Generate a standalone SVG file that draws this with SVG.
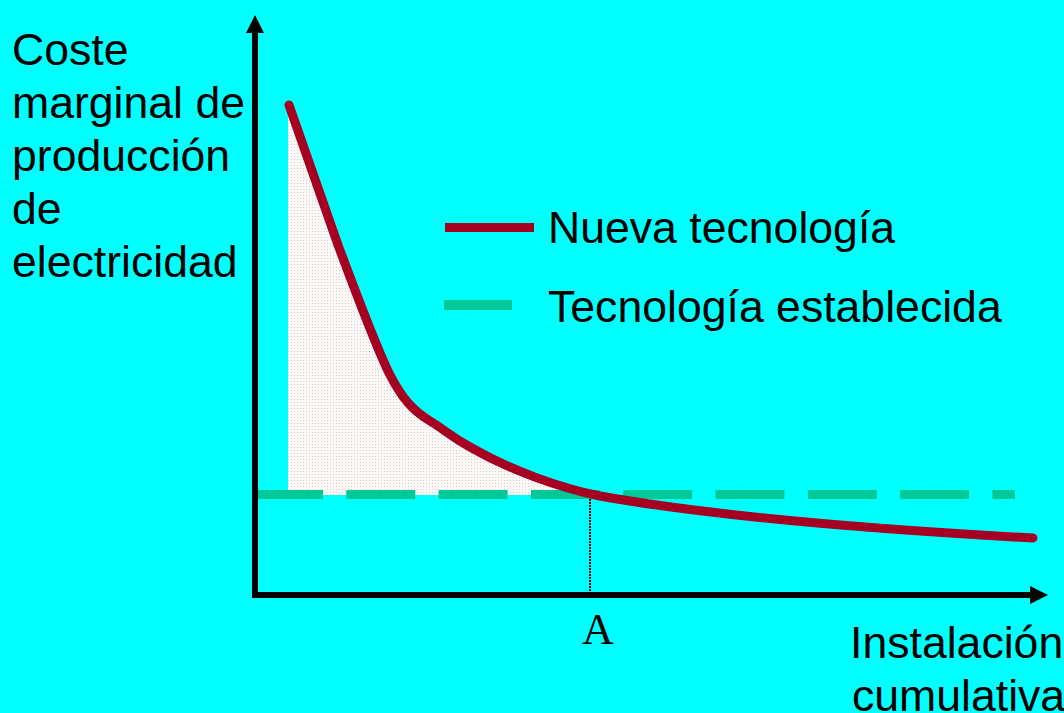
<svg xmlns="http://www.w3.org/2000/svg" width="1064" height="713" viewBox="0 0 1064 713">
  <style>
    .t { font-family: "Liberation Sans", Arial, sans-serif; font-size: 44.6px; fill: #000; }
    .serif { font-family: "Liberation Serif", "Times New Roman", serif; font-size: 44px; fill: #000; }
    .axis { stroke: #000; stroke-width: 6; fill: none; }
    .red { stroke: #A50021; stroke-width: 9; fill: none; stroke-linecap: round; stroke-linejoin: round; }
    .green { stroke: #00C896; stroke-width: 9; fill: none; }
  </style>
  <defs>
    <pattern id="dots" width="3" height="3" patternUnits="userSpaceOnUse">
      <rect width="3" height="3" fill="#fbf8f8"/>
      <rect x="0" y="0" width="1" height="1" fill="#e2cccc"/>
    </pattern>
    <clipPath id="fillclip">
      <rect x="288" y="0" width="800" height="495"/>
    </clipPath>
  </defs>
  <rect width="1064" height="713" fill="#00FFFF"/>

  <g id="shaded-area" clip-path="url(#fillclip)">
    <path d="M288,105 L289,105 L338,245 C355,290 375,345 390,375 C402,398 412,410 430,421 C445,430 450,436 470,447 C510,470 560,488 600,496 C700,514 850,528 1033,538 L1033,495 L288,495 Z" fill="url(#dots)"/>
  </g>

  <g id="established-tech-line">
    <line class="green" x1="254" y1="494.5" x2="1015" y2="494.5" stroke-dasharray="69 23.3"/>
  </g>

  <g id="connectors">
    <line x1="590" y1="496" x2="590" y2="592" stroke="#000" stroke-width="2" stroke-dasharray="2 1"/>
  </g>

  <g id="axes">
    <line class="axis" x1="255" y1="30" x2="255" y2="598"/>
    <polygon points="255,15 246,33 264,33" fill="#000"/>
    <line class="axis" x1="252" y1="595" x2="1032" y2="595"/>
    <polygon points="1048,595 1030,586 1030,604" fill="#000"/>
  </g>

  <g id="new-tech-curve">
    <path class="red" d="M289,105 L338,245 C355,290 375,345 390,375 C402,398 412,410 430,421 C445,430 450,436 470,447 C510,470 560,488 600,496 C700,514 850,528 1033,538"/>
  </g>

  <g id="y-label">
    <text class="t" x="12" y="65">Coste</text>
    <text class="t" x="12" y="118">marginal de</text>
    <text class="t" x="12" y="171">producción</text>
    <text class="t" x="12" y="224">de</text>
    <text class="t" x="12" y="277">electricidad</text>
  </g>

  <g id="legend">
    <line x1="445" y1="227.5" x2="534" y2="227.5" stroke="#A50021" stroke-width="9"/>
    <text class="t" x="548" y="243">Nueva tecnología</text>
    <line x1="444" y1="305" x2="512" y2="305" stroke="#00C896" stroke-width="10"/>
    <text class="t" x="548" y="322">Tecnología establecida</text>
  </g>

  <g id="label-A">
    <text class="serif" x="598" y="644" text-anchor="middle">A</text>
  </g>

  <g id="x-label">
    <text class="t" x="850" y="658">Instalación</text>
    <text class="t" x="852" y="711">cumulativa</text>
  </g>
</svg>
